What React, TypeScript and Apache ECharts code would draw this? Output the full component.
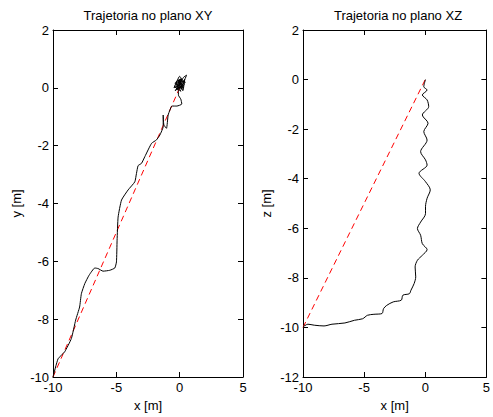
import React, { useEffect, useRef } from "react";
import * as echarts from "echarts";

// XY-plane trajectory (x, y in metres)
const xyX = [
  -10, -9.6, -9.08, -8.55, -8.21, -7.9, -7.76, -7.49, -7.15, -6.7, -6.44, -6.05, -5.52, -5.12, -4.99, -4.94,
  -4.86, -4.59, -4.07, -3.54, -3.41, -3.28, -3.01, -2.75, -2.22, -1.83, -1.56, -1.3, -1.3, -1.25, -1.04, -0.91,
  -0.77, -0.62, -0.22, 0.17, 0.09, -0.1,
  -0.1, -0.4, 0.1, -0.3, 0.2, -0.1, 0.35, 0.0, -0.45, 0.15, 0.4, 0.25, -0.15, 0.45, 0.05, -0.35, 0.3, 0.55, 0.1, -0.2,
  0.12, -0.28, 0.22, -0.05, 0.3, -0.38, 0.05, 0.2, -0.22, 0.1, -0.12, 0.28, 0.0,
];
const xyY = [
  -10, -9.37, -9.13, -8.67, -8.03, -7.58, -7.12, -6.77, -6.48, -6.23, -6.25, -6.34, -6.31, -6.23, -6.02, -5.27,
  -4.47, -3.88, -3.53, -3.25, -2.96, -2.69, -2.61, -2.38, -1.92, -1.8, -1.63, -1.34, -0.94, -1.28, -1.4, -0.94,
  -0.77, -0.63, -0.63, -0.56, -0.39, -0.25,
  -0.1, 0.05, -0.12, 0.2, 0.3, -0.02, 0.1, 0.4, 0.0, 0.15, 0.3, -0.1, 0.25, 0.2, 0.05, -0.1, 0.36, 0.44, 0.05, 0.12,
  0.25, 0.08, -0.05, 0.3, 0.0, 0.15, 0.22, 0.1, -0.05, 0.32, 0.18, 0.05, 0.0,
];

// XZ-plane trajectory (x, z in metres)
const xzX = [
  0.02, -0.12, 0.15, -0.24, 0.15, 0.28, -0.24, 0.23, -0.12, 0.15,
  -0.38, 0.02, 0.15, -0.51, 0.02, 0.41, 0.15, 0.02, 0.02, -0.38,
  -0.64, -0.38, -0.24, 0.15, -0.24, -0.64, -0.83, -0.78, -0.91, -1.17,
  -1.3, -1.83, -1.96, -2.62, -3.15, -3.41, -3.54, -4.2, -4.73, -5.12,
  -5.78, -6.57, -7.63, -8.28, -9.08, -9.6, -10,
];
const xzZ = [
  0, -0.29, -0.42, -0.62, -0.82, -1.09, -1.43, -1.76, -2.1, -2.44,
  -2.91, -3.24, -3.45, -3.78, -4.12, -4.45, -4.79, -5.13, -5.41, -5.75,
  -6.01, -6.28, -6.62, -6.86, -7.09, -7.29, -7.56, -7.96, -8.23, -8.5,
  -8.64, -8.7, -8.9, -8.97, -9.11, -9.24, -9.44, -9.47, -9.51, -9.65,
  -9.71, -9.82, -9.87, -9.94, -9.91, -9.87, -9.98,
];

// straight reference path (start -> target)
const refX = [-10, 0];
const refY = [-10, 0];

const xTicks = { min: -10, max: 5, interval: 5 };
const yTicksXY = { min: -10, max: 2, interval: 2 };
const yTicksXZ = { min: -12, max: 2, interval: 2 };

const titles = ["Trajetoria no plano XY", "Trajetoria no plano XZ"];
const xName = "x [m]";
const yNames = ["y [m]", "z [m]"];

const FONT = "'Liberation Sans', Arial, Helvetica, sans-serif";

export default function App() {
  const ref = useRef<HTMLDivElement>(null);
  useEffect(() => {
    document.body.style.margin = "0";
    const chart = echarts.init(ref.current!, null, { renderer: "svg" });

    const pairs = (a: number[], b: number[]) => a.map((v, i) => [v, b[i]]);

    const tick = { show: true, inside: true, length: 5, lineStyle: { color: "#000", width: 1 } };
    const line = { show: true, onZero: false, lineStyle: { color: "#000", width: 1 } };
    const label = { fontSize: 13, color: "#000", fontFamily: FONT, margin: 4 };
    const nameStyle = { fontSize: 13, color: "#000", fontFamily: FONT, fontWeight: "normal" };

    const mkX = (g: number) => [
      {
        gridIndex: g, type: "value", ...xTicks, position: "bottom",
        axisLine: line, axisTick: tick, axisLabel: label, splitLine: { show: false },
        name: xName, nameLocation: "middle", nameGap: 20, nameTextStyle: nameStyle,
      },
      {
        gridIndex: g, type: "value", ...xTicks, position: "top",
        axisLine: line, axisTick: tick, axisLabel: { show: false }, splitLine: { show: false },
      },
    ];
    const mkY = (g: number, t: any, nm: string) => [
      {
        gridIndex: g, type: "value", ...t, position: "left",
        axisLine: line, axisTick: tick, axisLabel: label, splitLine: { show: false },
        name: nm, nameLocation: "middle", nameGap: 30, nameTextStyle: nameStyle,
      },
      {
        gridIndex: g, type: "value", ...t, position: "right",
        axisLine: line, axisTick: tick, axisLabel: { show: false }, splitLine: { show: false },
      },
    ];

    chart.setOption({
      animation: false,
      backgroundColor: "#fff",
      grid: [
        { left: 53, top: 30, width: 190, height: 347 },
        { left: 303, top: 30, width: 190, height: 347 },
      ],
      xAxis: [...mkX(0), ...mkX(1)],
      yAxis: [...mkY(0, yTicksXY, yNames[0]), ...mkY(1, yTicksXZ, yNames[1])],
      graphic: [
        { type: "text", x: 148, y: 15, style: { text: titles[0], textAlign: "center", textVerticalAlign: "middle", font: `13px ${FONT}`, fill: "#000" } },
        { type: "text", x: 398, y: 15, style: { text: titles[1], textAlign: "center", textVerticalAlign: "middle", font: `13px ${FONT}`, fill: "#000" } },
      ],
      series: [
        {
          type: "line", xAxisIndex: 0, yAxisIndex: 0, data: pairs(refX, refY), showSymbol: false,
          lineStyle: { color: "#ff0000", width: 1, type: [6, 4] }, silent: true,
        },
        {
          type: "line", xAxisIndex: 0, yAxisIndex: 0, data: pairs(xyX, xyY), showSymbol: false,
          lineStyle: { color: "#000", width: 1 }, silent: true, smooth: 0.15,
        },
        {
          type: "line", xAxisIndex: 2, yAxisIndex: 2, data: pairs(refX, refY), showSymbol: false,
          lineStyle: { color: "#ff0000", width: 1, type: [6, 4] }, silent: true,
        },
        {
          type: "line", xAxisIndex: 2, yAxisIndex: 2, data: pairs(xzX, xzZ), showSymbol: false,
          lineStyle: { color: "#000", width: 1 }, silent: true, smooth: 0.3,
        },
        {
          type: "scatter", xAxisIndex: 2, yAxisIndex: 2, data: [[0, 0]], symbol: "emptyCircle", symbolSize: 3,
          itemStyle: { color: "#fff", borderColor: "#ff0000", borderWidth: 1 }, silent: true,
        },
      ],
    });
    return () => chart.dispose();
  }, []);
  return <div ref={ref} style={{ width: 493, height: 417, position: "absolute", left: 0, top: 0 }} />;
}
